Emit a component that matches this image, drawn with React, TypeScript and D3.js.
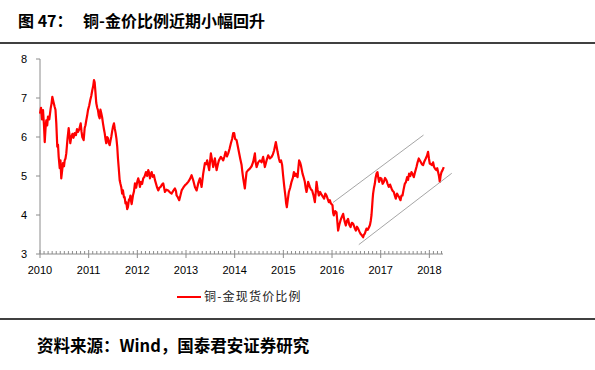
import React from 'react';
import * as d3 from 'd3';

// [fraction of year, copper/gold ratio]
const ratio2010 = [[0.000,6.60],[0.021,6.75],[0.041,6.45],[0.062,6.69],[0.082,6.30],[0.097,5.87],[0.113,6.20],[0.129,6.43],[0.148,6.30],[0.164,6.52],[0.191,6.45],[0.220,6.74],[0.236,6.85],[0.253,7.03],[0.277,6.90],[0.302,6.77],[0.318,6.70],[0.335,6.35],[0.355,5.75],[0.370,5.80],[0.384,5.49],[0.405,5.20],[0.421,5.40],[0.437,4.94],[0.456,5.15],[0.472,5.33],[0.493,5.25],[0.507,5.40],[0.524,5.45],[0.540,5.58],[0.565,5.95],[0.589,6.23],[0.606,6.05],[0.622,5.84],[0.643,6.00],[0.667,6.08],[0.688,5.98],[0.713,6.10],[0.739,6.05],[0.760,6.20],[0.780,6.13],[0.807,6.20],[0.836,6.35],[0.852,6.15],[0.869,6.00],[0.897,5.92],[0.918,6.23],[0.934,6.30],[0.951,6.43],[0.969,6.55],[0.986,6.69]];
const ratio2011 = [[0.010,6.80],[0.033,6.95],[0.053,7.05],[0.074,7.20],[0.092,7.30],[0.109,7.46],[0.123,7.40],[0.136,7.20],[0.156,6.87],[0.175,6.75],[0.191,6.69],[0.207,6.55],[0.226,6.48],[0.242,6.70],[0.259,6.61],[0.277,6.50],[0.294,6.35],[0.314,6.20],[0.329,6.10],[0.345,5.95],[0.361,5.84],[0.380,6.00],[0.396,5.97],[0.413,5.85],[0.431,5.79],[0.448,5.90],[0.464,6.00],[0.483,6.15],[0.499,6.26],[0.520,6.35],[0.536,6.22],[0.554,6.10],[0.571,5.95],[0.587,5.75],[0.602,5.45],[0.616,5.23],[0.637,4.89],[0.653,4.80],[0.669,4.72],[0.688,4.55],[0.704,4.63],[0.725,4.45],[0.739,4.46],[0.756,4.30],[0.772,4.33],[0.791,4.15],[0.807,4.20],[0.828,4.40],[0.842,4.38],[0.858,4.50],[0.875,4.33],[0.883,4.28],[0.910,4.50],[0.930,4.60],[0.951,4.81],[0.975,4.70],[0.998,4.85]];
const ratio2012 = [[0.018,4.94],[0.037,4.85],[0.053,4.72],[0.074,4.85],[0.099,4.80],[0.121,4.94],[0.146,4.98],[0.177,5.10],[0.201,5.00],[0.224,5.15],[0.242,5.08],[0.259,4.94],[0.279,5.05],[0.294,5.10],[0.316,4.98],[0.341,5.02],[0.361,4.90],[0.382,4.81],[0.407,4.70],[0.429,4.63],[0.454,4.70],[0.478,4.72],[0.505,4.78],[0.532,4.81],[0.550,4.70],[0.567,4.59],[0.598,4.65],[0.634,4.63],[0.669,4.58],[0.704,4.55],[0.737,4.62],[0.772,4.68],[0.793,4.62],[0.807,4.50],[0.834,4.45],[0.860,4.38],[0.885,4.50],[0.910,4.63],[0.943,4.70],[0.977,4.76]];
const ratio2013 = [[0.012,4.80],[0.045,4.85],[0.080,4.92],[0.115,5.02],[0.148,4.89],[0.183,4.72],[0.218,4.63],[0.251,4.81],[0.285,4.94],[0.320,4.72],[0.353,5.06],[0.388,5.33],[0.413,5.30],[0.435,5.40],[0.476,5.15],[0.511,5.58],[0.536,5.40],[0.559,5.23],[0.593,5.45],[0.628,5.15],[0.655,5.30],[0.676,5.40],[0.717,5.49],[0.764,5.40],[0.789,5.50],[0.813,5.62],[0.840,5.50],[0.867,5.58],[0.895,5.70],[0.922,5.84],[0.947,5.95],[0.969,6.10],[0.990,6.10]];
const ratio2014 = [[0.008,5.95],[0.039,5.92],[0.066,5.75],[0.086,5.62],[0.113,5.45],[0.142,5.28],[0.158,5.10],[0.175,4.94],[0.193,4.80],[0.209,4.68],[0.226,4.90],[0.244,5.10],[0.277,5.15],[0.312,5.19],[0.347,5.25],[0.380,5.36],[0.415,5.58],[0.431,5.35],[0.450,5.23],[0.483,5.35],[0.517,5.40],[0.552,5.35],[0.585,5.49],[0.620,5.23],[0.655,5.40],[0.688,5.53],[0.723,5.45],[0.758,5.49],[0.784,5.55],[0.811,5.66],[0.846,5.87],[0.881,5.62],[0.908,5.45],[0.928,5.36],[0.953,5.40],[0.975,5.28],[0.996,5.00]];
const ratio2015 = [[0.016,4.76],[0.031,4.60],[0.045,4.46],[0.057,4.30],[0.072,4.20],[0.092,4.40],[0.113,4.59],[0.140,4.70],[0.168,4.85],[0.195,4.95],[0.216,5.10],[0.236,5.00],[0.257,5.06],[0.292,4.97],[0.308,5.20],[0.324,5.40],[0.343,5.35],[0.359,5.28],[0.394,5.06],[0.421,4.95],[0.441,4.85],[0.458,4.70],[0.476,4.59],[0.493,4.70],[0.509,4.85],[0.528,4.78],[0.544,4.72],[0.569,4.65],[0.591,4.63],[0.620,4.50],[0.647,4.33],[0.667,4.60],[0.682,4.85],[0.704,4.65],[0.729,4.50],[0.756,4.59],[0.784,4.52],[0.817,4.46],[0.838,4.42],[0.862,4.55],[0.887,4.50],[0.914,4.40],[0.934,4.33],[0.955,4.38],[0.975,4.30]];
const ratio2016 = [[0.010,4.25],[0.023,4.05],[0.037,3.99],[0.064,4.10],[0.092,4.07],[0.108,3.85],[0.125,3.60],[0.150,3.75],[0.174,3.86],[0.201,3.95],[0.228,4.03],[0.256,3.85],[0.283,3.73],[0.308,3.85],[0.330,3.90],[0.355,3.75],[0.380,3.69],[0.407,3.80],[0.433,3.78],[0.462,3.68],[0.489,3.60],[0.513,3.70],[0.536,3.65],[0.561,3.58],[0.585,3.52],[0.612,3.48],[0.639,3.43],[0.657,3.50],[0.673,3.52],[0.694,3.60],[0.708,3.65],[0.735,3.62],[0.762,3.69],[0.780,3.75],[0.797,3.86],[0.811,4.00],[0.823,4.20],[0.834,4.40],[0.844,4.55],[0.862,4.70],[0.879,4.80],[0.895,4.95],[0.914,5.06],[0.934,5.10],[0.951,4.95],[0.967,4.85],[0.992,4.95]];
const ratio2017 = [[0.016,4.93],[0.039,4.80],[0.064,4.85],[0.090,4.95],[0.119,4.89],[0.142,4.80],[0.166,4.72],[0.193,4.78],[0.222,4.68],[0.244,4.62],[0.269,4.59],[0.289,4.50],[0.310,4.42],[0.335,4.55],[0.357,4.50],[0.382,4.45],[0.407,4.38],[0.427,4.50],[0.448,4.50],[0.470,4.65],[0.495,4.80],[0.520,4.85],[0.542,4.97],[0.563,4.90],[0.583,5.06],[0.608,5.00],[0.632,5.10],[0.655,5.05],[0.680,4.97],[0.706,5.10],[0.735,5.23],[0.758,5.35],[0.782,5.45],[0.803,5.40],[0.823,5.36],[0.848,5.30],[0.871,5.28],[0.899,5.38],[0.926,5.45],[0.951,5.52],[0.973,5.62],[0.991,5.45]];
const ratio2018 = [[0.008,5.32],[0.033,5.30],[0.055,5.28],[0.076,5.35],[0.097,5.23],[0.121,5.18],[0.146,5.15],[0.162,5.20],[0.179,5.10],[0.197,5.00],[0.214,4.85],[0.230,5.00],[0.249,5.10],[0.271,5.15],[0.296,5.23]];

const yearRatios = [
  [2010, ratio2010], [2011, ratio2011], [2012, ratio2012], [2013, ratio2013], [2014, ratio2014],
  [2015, ratio2015], [2016, ratio2016], [2017, ratio2017], [2018, ratio2018],
];

// channel lines drawn on top of the chart: [decimal year, ratio]
const upperTrend = [[2016.02, 4.32], [2017.88, 6.05]];
const lowerTrend = [[2016.55, 3.24], [2018.46, 5.07]];

const xYears = [2010, 2011, 2012, 2013, 2014, 2015, 2016, 2017, 2018];
const yTicks = [3, 4, 5, 6, 7, 8];

const title = '图 47：';
const subtitle = '铜-金价比例近期小幅回升';
const seriesName = '铜-金现货价比例';
const source = '资料来源：Wind，国泰君安证券研究';

const cjk = '"Noto Sans CJK SC", "Noto Sans", sans-serif';
const axisFont = '"Liberation Sans", Arial, sans-serif';

export default function App() {
  const x = d3.scaleLinear().domain([2010, 2018.28]).range([40, 443]);
  const y = d3.scaleLinear().domain([3, 8]).range([254, 59]);

  const points = yearRatios.flatMap(([yr, arr]: any) => arr.map(([f, v]: number[]) => [yr + f, v]));
  const line = d3.line<number[]>().x(d => x(d[0])).y(d => y(d[1]));

  const months = d3.range(2010, 2018.28, 1 / 12).filter((m, i) => i % 12 !== 0);

  return (
    <svg width={595} height={370} style={{ position: 'absolute', left: 0, top: 0, background: '#fff' }}>
      <text x={18} y={27} fontFamily={cjk} fontWeight="bold" fontSize={16} fill="#000">{title}</text>
      <text x={83} y={27} fontFamily={cjk} fontWeight="bold" fontSize={16} fill="#000">{subtitle}</text>
      <line x1={0} x2={595} y1={43} y2={43} stroke="#000" strokeWidth={1.5} />

      {/* y axis */}
      <line x1={40} x2={40} y1={y(8)} y2={y(3)} stroke="#8c8c8c" />
      {yTicks.map(t => (
        <g key={t}>
          <line x1={36} x2={40} y1={y(t)} y2={y(t)} stroke="#8c8c8c" />
          <text x={27} y={y(t) + 4} textAnchor="end" fontFamily={axisFont} fontSize={11} fill="#000">{t}</text>
        </g>
      ))}

      {/* x axis */}
      <line x1={40} x2={443} y1={254} y2={254} stroke="#8c8c8c" />
      {months.map((m, i) => (
        <line key={i} x1={x(m)} x2={x(m)} y1={251} y2={254} stroke="#8c8c8c" />
      ))}
      {xYears.map(yr => (
        <g key={yr}>
          <line x1={x(yr)} x2={x(yr)} y1={250} y2={258} stroke="#8c8c8c" />
          <text x={x(yr)} y={274} textAnchor="middle" fontFamily={axisFont} fontSize={11} fill="#000">{yr}</text>
        </g>
      ))}

      <path d={line(points) || ''} fill="none" stroke="#ff0000" strokeWidth={2.2} strokeLinejoin="round" />

      <path d={line(upperTrend) || ''} fill="none" stroke="#a6a6a6" strokeWidth={1} />
      <path d={line(lowerTrend) || ''} fill="none" stroke="#a6a6a6" strokeWidth={1} />

      {/* legend */}
      <line x1={177} x2={201} y1={297} y2={297} stroke="#ff0000" strokeWidth={2} />
      <text x={204} y={301} fontFamily={cjk} fontSize={12} letterSpacing={1.2} fill="#222">{seriesName}</text>

      <line x1={0} x2={595} y1={319} y2={319} stroke="#000" strokeWidth={1.5} />
      <text x={37} y={352} fontFamily={cjk} fontWeight="bold" fontSize={16.5} fill="#000">{source}</text>
    </svg>
  );
}
